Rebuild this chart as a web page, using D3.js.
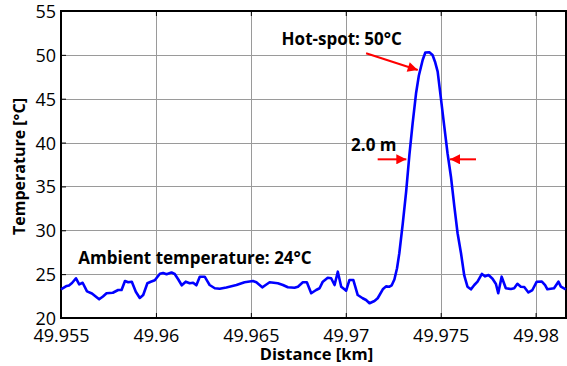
<!DOCTYPE html>
<html>
<head>
<meta charset="utf-8">
<script src="https://cdn.jsdelivr.net/npm/d3@7/dist/d3.min.js"></script>
<style>
  body { margin: 0; background: #fff; }
  svg text { font-family: "Open Sans", sans-serif; fill: #000; }
</style>
</head>
<body>
<div id="chart"></div>
<script>
var width = 567,
    height = 366;
var margin = { top: 11, right: 1, bottom: 48, left: 61 };

// distance along the fibre, km
var distance = [49.95500, 49.95530, 49.95542, 49.95558, 49.95579, 49.95596, 49.95614, 49.95637, 49.95663, 49.95701,
  49.95721, 49.95740, 49.95773, 49.95801, 49.95819, 49.95837, 49.95854, 49.95873, 49.95894, 49.95915,
  49.95933, 49.95955, 49.95973, 49.95994, 49.96021, 49.96038, 49.96056, 49.96082, 49.96099, 49.96118,
  49.96136, 49.96157, 49.96178, 49.96196, 49.96213, 49.96231, 49.96257, 49.96270, 49.96283, 49.96310,
  49.96336, 49.96371, 49.96424, 49.96467, 49.96511, 49.96529, 49.96560, 49.96578, 49.96599, 49.96642,
  49.96669, 49.96695, 49.96730, 49.96748, 49.96774, 49.96795, 49.96818, 49.96844, 49.96862, 49.96879,
  49.96905, 49.96923, 49.96941, 49.96958, 49.96976, 49.96993, 49.97002, 49.97019, 49.97040, 49.97063,
  49.97089, 49.97107, 49.97125, 49.97151, 49.97168, 49.97195, 49.97212, 49.97230, 49.97242, 49.97256,
  49.97270, 49.97282, 49.97300, 49.97318, 49.97335, 49.97352, 49.97370, 49.97385, 49.97405, 49.97419,
  49.97440, 49.97457, 49.97470, 49.97484, 49.97500, 49.97519, 49.97536, 49.97554, 49.97572, 49.97589,
  49.97607, 49.97624, 49.97641, 49.97659, 49.97677, 49.97694, 49.97717, 49.97734, 49.97752, 49.97773,
  49.97791, 49.97803, 49.97821, 49.97843, 49.97870, 49.97887, 49.97904, 49.97922, 49.97940, 49.97962,
  49.97983, 49.98006, 49.98033, 49.98050, 49.98062, 49.98097, 49.98120, 49.98133, 49.98159];

// temperature, degC
var temperature = [23.27, 23.65, 23.70, 23.99, 24.53, 23.84, 24.02, 23.04, 22.79, 22.13,
  22.45, 22.82, 22.88, 23.19, 23.19, 24.22, 24.07, 24.14, 23.00, 22.28,
  22.62, 23.96, 24.13, 24.30, 25.05, 25.13, 24.99, 25.19, 25.02, 24.39,
  23.73, 24.14, 23.96, 24.02, 23.73, 24.71, 24.71, 24.24, 23.76, 23.39,
  23.34, 23.48, 23.76, 24.07, 24.22, 24.07, 23.50, 23.76, 24.07, 23.96,
  23.76, 23.50, 23.45, 23.57, 24.07, 24.07, 22.82, 23.19, 23.39, 24.14,
  24.59, 24.53, 23.76, 25.28, 23.57, 23.27, 23.11, 24.33, 24.33, 22.62,
  22.25, 22.05, 21.68, 21.94, 22.25, 23.27, 23.61, 23.57, 23.73, 24.39,
  25.67, 27.38, 30.72, 34.42, 38.58, 42.17, 45.59, 47.65, 49.41, 50.27,
  50.30, 49.98, 49.22, 48.08, 45.23, 41.81, 38.78, 36.11, 32.69, 29.66,
  27.38, 24.85, 23.57, 23.27, 23.76, 24.14, 25.02, 24.75, 24.90, 24.48,
  23.88, 22.82, 24.71, 23.39, 23.31, 23.39, 23.90, 23.57, 23.53, 22.91,
  23.19, 24.14, 24.16, 23.76, 23.27, 23.39, 24.14, 23.57, 23.27];

var xTicks = [49.955, 49.96, 49.965, 49.97, 49.975, 49.98];
var xTickLabels = ["49.955", "49.96", "49.965", "49.97", "49.975", "49.98"];
var yTicks = [20, 25, 30, 35, 40, 45, 50, 55];

var xDomain = [49.955, 49.9816];
var yDomain = [20, 55];

var svg = d3.select("#chart").append("svg")
    .attr("width", width)
    .attr("height", height);

var x = d3.scaleLinear()
    .domain(xDomain)
    .range([margin.left, width - margin.right]);

var y = d3.scaleLinear()
    .domain(yDomain)
    .range([height - margin.bottom, margin.top]);

var x0 = margin.left, x1 = width - margin.right,
    y0 = height - margin.bottom, y1 = margin.top;

// grid
var grid = svg.append("g").attr("class", "grid");
grid.selectAll("line.gx")
    .data(xTicks.slice(1))
    .enter().append("line")
    .attr("class", "gx")
    .attr("x1", function (d) { return Math.round(x(d)) + 0.5; })
    .attr("x2", function (d) { return Math.round(x(d)) + 0.5; })
    .attr("y1", y1)
    .attr("y2", y0)
    .attr("stroke", "#9a9a9a")
    .attr("stroke-width", 1);
grid.selectAll("line.gy")
    .data(yTicks.slice(1, -1))
    .enter().append("line")
    .attr("class", "gy")
    .attr("y1", function (d) { return Math.round(y(d)) + 0.5; })
    .attr("y2", function (d) { return Math.round(y(d)) + 0.5; })
    .attr("x1", x0)
    .attr("x2", x1)
    .attr("stroke", "#9a9a9a")
    .attr("stroke-width", 1);

// axes
var xAxis = d3.axisBottom(x)
    .tickValues(xTicks)
    .tickFormat(function (d, i) { return xTickLabels[i]; })
    .tickSizeInner(-5)
    .tickSizeOuter(0)
    .tickPadding(11);

var yAxis = d3.axisLeft(y)
    .tickValues(yTicks)
    .tickSizeInner(-5)
    .tickSizeOuter(0)
    .tickPadding(5);

var gx = svg.append("g")
    .attr("transform", "translate(0," + y0 + ")")
    .call(xAxis);
gx.select(".domain").remove();
gx.selectAll("line").attr("stroke", "#000").attr("stroke-width", 1);
gx.selectAll("text").attr("font-size", "18px").attr("dy", "0.71em");

var gxTop = svg.append("g")
    .attr("transform", "translate(0," + y1 + ")")
    .call(d3.axisTop(x).tickValues(xTicks).tickSizeInner(-5).tickSizeOuter(0).tickFormat(""));
gxTop.select(".domain").remove();
gxTop.selectAll("line").attr("stroke", "#000");

var gy = svg.append("g")
    .attr("transform", "translate(" + x0 + ",0)")
    .call(yAxis);
gy.select(".domain").remove();
gy.selectAll("line").attr("stroke", "#000");
gy.selectAll("text").attr("font-size", "18px").attr("dy", "0.36em");

// box
svg.append("rect")
    .attr("x", x0)
    .attr("y", y1)
    .attr("width", x1 - x0)
    .attr("height", y0 - y1)
    .attr("fill", "none")
    .attr("stroke", "#000")
    .attr("stroke-width", 2);

// data line
var line = d3.line()
    .x(function (d) { return x(d[0]); })
    .y(function (d) { return y(d[1]); });

svg.append("path")
    .datum(d3.zip(distance, temperature))
    .attr("d", line)
    .attr("fill", "none")
    .attr("stroke", "#0000ff")
    .attr("stroke-width", 2.6)
    .attr("stroke-linejoin", "round");

// axis labels
svg.append("text")
    .attr("x", 316.5)
    .attr("y", 360)
    .attr("text-anchor", "middle")
    .attr("font-size", "16.5px")
    .attr("font-weight", "bold")
    .text("Distance [km]");

svg.append("text")
    .attr("transform", "translate(25," + ((y0 + y1) / 2 + 2) + ") rotate(-90)")
    .attr("text-anchor", "middle")
    .attr("font-size", "16px")
    .attr("font-weight", "bold")
    .text("Temperature [°C]");

// annotations
svg.append("defs").append("marker")
    .attr("id", "arrow")
    .attr("viewBox", "0 0 10 10")
    .attr("refX", 10)
    .attr("refY", 5)
    .attr("markerUnits", "userSpaceOnUse")
    .attr("markerWidth", 14)
    .attr("markerHeight", 10)
    .attr("orient", "auto")
    .append("path")
    .attr("d", "M0,0L10,5L0,10z")
    .attr("fill", "#ff0000");

var arrows = [
  { from: [49.97107, 50.18], to: [49.97379, 48.27] },
  { from: [49.97168, 38.09], to: [49.97319, 38.09] },
  { from: [49.97686, 38.09], to: [49.97549, 38.09] }
];

svg.selectAll("line.arrow")
    .data(arrows)
    .enter().append("line")
    .attr("class", "arrow")
    .attr("x1", function (d) { return x(d.from[0]); })
    .attr("y1", function (d) { return y(d.from[1]); })
    .attr("x2", function (d) { return x(d.to[0]); })
    .attr("y2", function (d) { return y(d.to[1]); })
    .attr("stroke", "#ff0000")
    .attr("stroke-width", 2)
    .attr("marker-end", "url(#arrow)");

var notes = [
  { text: "Hot-spot: 50°C", at: [49.96662, 51.12] },
  { text: "2.0 m", at: [49.97028, 39.04] },
  { text: "Ambient temperature: 24°C", at: [49.95591, 26.12] }
];

svg.selectAll("text.note")
    .data(notes)
    .enter().append("text")
    .attr("class", "note")
    .attr("x", function (d) { return x(d.at[0]); })
    .attr("y", function (d) { return y(d.at[1]); })
    .attr("font-size", "17px")
    .attr("font-weight", "bold")
    .text(function (d) { return d.text; });
</script>
</body>
</html>
